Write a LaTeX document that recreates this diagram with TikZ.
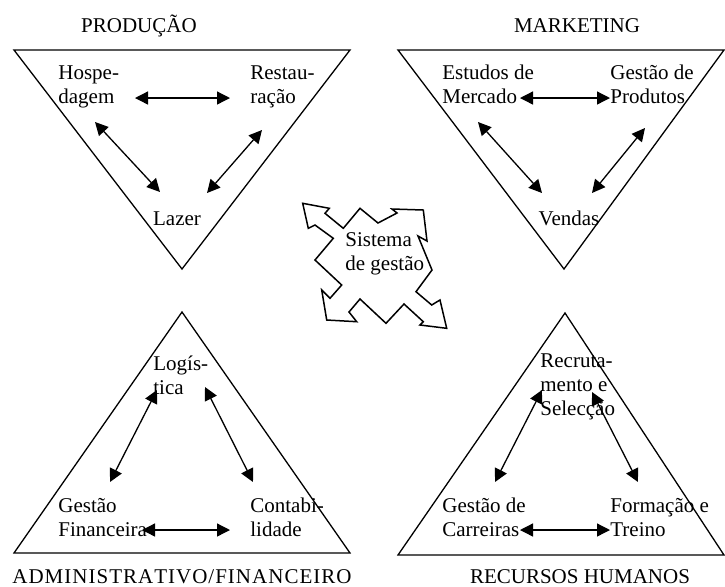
\documentclass[tikz,border=0pt]{standalone}
\usepackage{fontspec}
\setmainfont{Liberation Serif}
\usetikzlibrary{arrows.meta}

\begin{document}
\begin{tikzpicture}[
    x=0.5pt, y=-0.5pt,
    font=\fontsize{10.5}{12}\selectfont,
    lado/.style={line width=0.65pt, line join=miter},
    texto/.style={inner sep=0pt, align=left, anchor=north west},
    titulo/.style={inner sep=0pt, anchor=base},
    seta/.style={{Triangle[length=6.5pt,width=6.5pt]}-{Triangle[length=6.5pt,width=6.5pt]}, line width=0.65pt}
  ]
  \useasboundingbox (0,0) rectangle (725,586);

    % --- TRIANGULOS ---
    \draw[lado] (14,50) -- (350,50) -- (182,269) -- cycle;   % producao
    \draw[lado] (398,50) -- (724,50) -- (564,269) -- cycle;  % marketing
    \draw[lado] (182,312) -- (350,553) -- (14,553) -- cycle; % administrativo
    \draw[lado] (565,313) -- (724,555) -- (398,555) -- cycle; % recursos humanos

    % --- TITULOS ---
    \node[titulo] (prod) at (139,32) {PRODUÇÃO};
    \node[titulo] (mark) at (577,32) {MARKETING};
    \node[titulo] (admin) at (182,583)
      {\addfontfeature{Kerning=Off,LetterSpace=4.8}ADMINISTRATIVO/FINANCEIRO};
    \node[titulo] (rh) at (580,583) {RECURSOS HUMANOS};

    % --- AREAS ---
    \node[texto] (hosp) at (58,65) {Hospe-\\dagem};
    \node[texto] (rest) at (250,65) {Restau-\\ração};
    \node[titulo] (lazer) at (177,225) {Lazer};

    \node[texto] (estud) at (442,65) {Estudos de\\Mercado};
    \node[texto] (gprod) at (610,65) {Gestão de\\Produtos};
    \node[titulo] (vendas) at (569,225) {Vendas};

    \node[texto] (logis) at (153,355) {Logís-\\tica};
    \node[texto] (gfin) at (58,498) {Gestão\\Financeira};
    \node[texto] (contab) at (250,498) {Contabi-\\lidade};

    \node[texto] (recr) at (540,353) {Recruta-\\mento e\\Selecção};
    \node[texto] (gcarr) at (442,498) {Gestão de\\Carreiras};
    \node[texto] (form) at (610,498) {Formação e\\Treino};

    % --- SETAS ---
    \foreach \n/\x/\y in {p1/135/98, p2/230/98, p3/95/122, p4/160/192, p5/262/130, p6/207/193,
                          m1/520/98, m2/610/98, m3/478/122, m4/542/193, m5/645/128, m6/592/193,
                          a1/157/390, a2/110/482, a3/205/387, a4/253/482, a5/142/530, a6/230/530,
                          r1/542/390, r2/495/482, r3/592/392, r4/638/482, r5/520/530, r6/610/530}
        \coordinate (\n) at (\x,\y);
    \foreach \a/\b in {p1/p2, p3/p4, p5/p6, m1/m2, m3/m4, m5/m6,
                       a1/a2, a3/a4, a5/a6, r1/r2, r3/r4, r5/r6}
        \draw[seta] (\a) -- (\b);

    % --- SISTEMA DE GESTAO (seta em quatro sentidos) ---
    \draw[line width=0.75pt, line join=miter]
      (302.7,203.3) -- (329.3,208.3) -- (325,213.3) -- (343.3,228.3) -- (360,208.3)
      -- (378,223) -- (397,213) -- (392,209) -- (423.3,210) -- (427,241)
      -- (418,236) -- (432,270) -- (416,291.7) -- (431.7,305) -- (440,300)
      -- (446.7,328.3) -- (420,325) -- (423.3,321.7) -- (404,304) -- (386,323.3)
      -- (360,299) -- (349,312) -- (356.7,321.7) -- (326.7,320) -- (321.7,290)
      -- (330,298.3) -- (341.7,285) -- (315,260) -- (333.3,238.3) -- (315,225)
      -- (308.3,228.3) -- cycle;
    \node[texto] (sist) at (345,232) {Sistema\\de gestão};

\end{tikzpicture}
\end{document}
